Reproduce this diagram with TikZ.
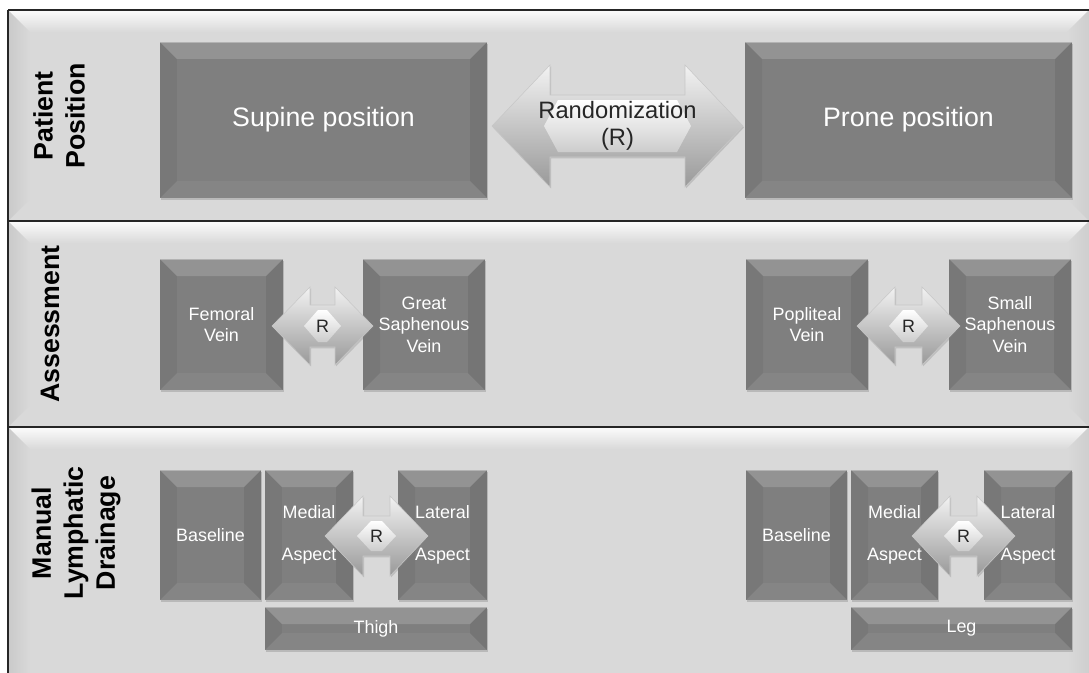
\documentclass[tikz,border=0pt]{standalone}
\usepackage{fontspec}
\setmainfont{Liberation Sans}
\usetikzlibrary{shadows}
\definecolor{bandgray}{HTML}{D9D9D9}
\definecolor{boxgray}{HTML}{7F7F7F}
\definecolor{linegray}{HTML}{262626}
\newcommand\bev{0.34cm}
\tikzset{
  gbox/.style={fill=boxgray, inner sep=0pt, align=center, text=white,
    drop shadow={shadow xshift=0.8pt, shadow yshift=-1pt, opacity=0.35},
    path picture={
      \fill[white,opacity=0.16] (path picture bounding box.north west) -- (path picture bounding box.north east)
        -- ([xshift=-\bev,yshift=-\bev]path picture bounding box.north east)
        -- ([xshift=\bev,yshift=-\bev]path picture bounding box.north west) -- cycle;
      \fill[black,opacity=0.05] (path picture bounding box.north west) -- ([xshift=\bev,yshift=-\bev]path picture bounding box.north west)
        -- ([xshift=\bev,yshift=\bev]path picture bounding box.south west) -- (path picture bounding box.south west) -- cycle;
      \fill[black,opacity=0.08] (path picture bounding box.north east) -- ([xshift=-\bev,yshift=-\bev]path picture bounding box.north east)
        -- ([xshift=-\bev,yshift=\bev]path picture bounding box.south east) -- (path picture bounding box.south east) -- cycle;
      \fill[white,opacity=0.05] (path picture bounding box.south west) -- ([xshift=\bev,yshift=\bev]path picture bounding box.south west)
        -- ([xshift=-\bev,yshift=\bev]path picture bounding box.south east) -- (path picture bounding box.south east) -- cycle;
      \draw[white,opacity=0.3,line width=0.6pt] (path picture bounding box.north west) -- (path picture bounding box.north east);
    }},
  bigtxt/.style={font=\fontsize{15.2}{18}\selectfont},
  smalltxt/.style={font=\fontsize{10.2}{12.3}\selectfont},
  widetxt/.style={font=\fontsize{10.2}{23.9}\selectfont},
  lbl/.style={rotate=90, align=center, text=black, font=\fontsize{15.2}{18.2}\selectfont\bfseries},
  arrowbody/.style={top color=black!5, bottom color=black!40, draw=black!22, line width=0.3pt,
    drop shadow={shadow xshift=0.6pt, shadow yshift=-0.8pt, opacity=0.3}},
  arrowface/.style={top color=white, bottom color=black!20},
  arrtext/.style={text=black!85, align=center, inner sep=0pt},
  bandline/.style={draw=linegray, line width=1.2pt},
}
% box: name, x1, y1, x2, y2, text, options
\newcommand\gb[7]{\node[gbox,#7, minimum width={(#4-#2)*0.02cm}, minimum height={(#5-#3)*0.02cm}] (#1) at ({(#2+#4)/2},{(#3+#5)/2}) {#6};}
% double arrow: name, x1, x2, yc, body half, head half, head length, options, text
\newcommand\dblarr[9]{%
  \path[arrowbody] (#2,#4) -- ({#2+#7},{#4-#6}) -- ({#2+#7},{#4-#5}) -- ({#3-#7},{#4-#5}) -- ({#3-#7},{#4-#6})
    -- (#3,#4) -- ({#3-#7},{#4+#6}) -- ({#3-#7},{#4+#5}) -- ({#2+#7},{#4+#5}) -- ({#2+#7},{#4+#6}) -- cycle;
  \path[arrowface] ({#2+#7-6},#4) -- ({#2+#7+8},{#4-#5+5}) -- ({#3-#7-8},{#4-#5+5}) -- ({#3-#7+6},#4)
    -- ({#3-#7-8},{#4+#5-5}) -- ({#2+#7+8},{#4+#5-5}) -- cycle;
  \node[arrtext,#8] (#1) at ({(#2+#3)/2},#4) {#9};}
% band: top y, bottom y
\newcommand\band[2]{%
  \fill[bandgray] (8,#1) rectangle (1089,#2);
  \shade[top color=white!92!bandgray, bottom color=bandgray] (8,#1) -- (1089,#1) -- (1067,{#1+22}) -- (30,{#1+22}) -- cycle;
  \shade[left color=black!21, right color=bandgray] (8,#1) -- (30,{#1+22}) -- (30,{#2-22}) -- (8,#2) -- cycle;
  \shade[right color=black!19, left color=bandgray] (1089,#1) -- (1067,{#1+22}) -- (1067,{#2-22}) -- (1089,#2) -- cycle;
}
\begin{document}
\begin{tikzpicture}[x=0.02cm,y=-0.02cm]
\useasboundingbox (0,0) rectangle (1089,673);
\fill[white] (0,0) rectangle (1089,673);
% bands
\band{10}{221}
\band{221}{427}
\fill[bandgray] (8,427) rectangle (1089,673);
\shade[top color=white!92!bandgray, bottom color=bandgray] (8,427) -- (1089,427) -- (1067,449) -- (30,449) -- cycle;
\shade[left color=black!21, right color=bandgray] (8,427) -- (30,449) -- (30,673) -- (8,673) -- cycle;
\shade[right color=black!19, left color=bandgray] (1089,427) -- (1067,449) -- (1067,673) -- (1089,673) -- cycle;
\draw[bandline] (8,10) -- (1089,10);
\draw[bandline] (8,221) -- (1089,221);
\draw[bandline] (8,427) -- (1089,427);
\draw[bandline] (8,10) -- (8,673);
% labels
\node[lbl] (lpp) at (59,116) {Patient\\Position};
\node[lbl] (las) at (50,324) {Assessment};
\node[lbl] (lmd) at (76,533) {Manual\\Lymphatic\\Drainage};
% band 1
\gb{sup}{160}{42}{487}{198}{Supine position}{bigtxt}
\gb{pro}{745}{42}{1072}{198}{Prone position}{bigtxt}
% band 2
\gb{fem}{160}{259}{283}{390}{Femoral\\Vein}{smalltxt}
\gb{gsv}{363}{259}{485}{390}{Great\\Saphenous\\Vein}{smalltxt}
\gb{pop}{746}{259}{868}{390}{Popliteal\\Vein}{smalltxt}
\gb{ssv}{949}{259}{1071}{390}{Small\\Saphenous\\Vein}{smalltxt}
% band 3 left
\gb{bl1}{160}{470}{261}{600}{Baseline}{smalltxt}
\gb{me1}{265}{470}{353}{600}{Medial\\Aspect}{widetxt}
\gb{la1}{398}{470}{487}{600}{Lateral\\Aspect}{widetxt}
\gb{thi}{265}{607}{487}{650}{Thigh}{smalltxt}
% band 3 right
\gb{bl2}{746}{470}{847}{600}{Baseline}{smalltxt}
\gb{me2}{851}{470}{938}{600}{Medial\\Aspect}{widetxt}
\gb{la2}{984}{470}{1072}{600}{Lateral\\Aspect}{widetxt}
\gb{leg}{851}{607}{1072}{650}{Leg}{smalltxt}
% arrows
\dblarr{rand}{492}{743}{126}{31}{61}{58}{font=\fontsize{13.5}{15.5}\selectfont}{Randomization\\(R)}
\dblarr{r1}{272}{373}{326}{21}{39}{38}{smalltxt}{R}
\dblarr{r2}{857}{960}{326}{21}{39}{38}{smalltxt}{R}
\dblarr{r3}{325}{428}{536}{20}{40}{38}{smalltxt}{R}
\dblarr{r4}{912}{1015}{536}{20}{40}{38}{smalltxt}{R}
\end{tikzpicture}
\end{document}
